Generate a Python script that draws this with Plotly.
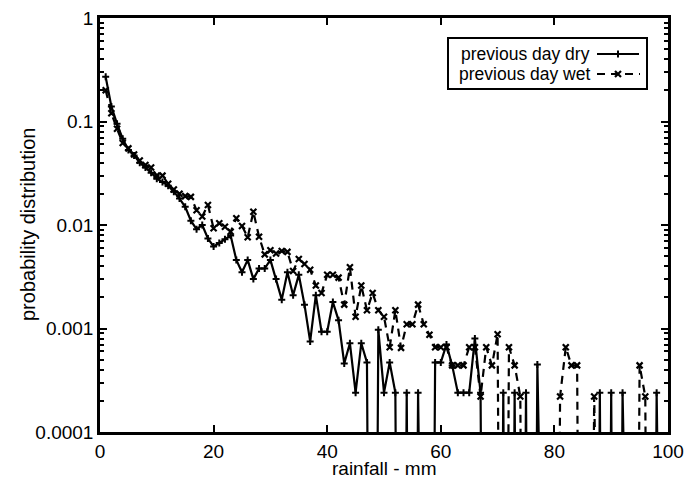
import plotly.graph_objects as go

rain_mm = list(range(1, 101))

prev_dry = [
    0.27, 0.14, 0.095, 0.068, 0.053, 0.047, 0.040, 0.036, 0.032, 0.028,
    0.026, 0.024, 0.021, 0.018, 0.015, 0.011, 0.0091, 0.0100, 0.0074, 0.0062,
    0.0067, 0.0073, 0.0079, 0.0046, 0.0035, 0.0046, 0.0030, 0.0038, 0.0038, 0.0046,
    0.0030, 0.0019, 0.0035, 0.0021, 0.0033, 0.0017, 0.00075, 0.0021, 0.00093, 0.00093,
    0.0018, 0.0012, 0.00046, 0.00072, 0.00024, 0.00072, 0.00047, 0, 0.00097, 0.00024,
    0.00047, 0.00024, 0, 0.00024, 0, 0.00024, 0, 0, 0.00047, 0.00047,
    0.00070, 0.00044, 0.00024, 0.00024, 0.00024, 0.0008, 0.00024, 0, 0, 0,
    0.00024, 0, 0.00024, 0, 0.00024, 0, 0.00045, 0, 0, 0,
    0, 0, 0, 0, 0, 0, 0, 0.00024, 0, 0.00024,
    0, 0.00024, 0, 0, 0, 0, 0, 0.00024, 0, 0,
]

prev_wet = [
    0.20, 0.12, 0.085, 0.062, 0.055, 0.048, 0.042, 0.038, 0.036, 0.030,
    0.030, 0.025, 0.022, 0.020, 0.019, 0.0187, 0.0139, 0.0121, 0.0156, 0.0093,
    0.0104, 0.0096, 0.0086, 0.0116, 0.0098, 0.0076, 0.0134, 0.0077, 0.0052, 0.0057,
    0.0053, 0.0056, 0.0055, 0.0036, 0.0047, 0.0042, 0.0037, 0.0026, 0.0022, 0.0033,
    0.0033, 0.0031, 0.0017, 0.0039, 0.0013, 0.0026, 0.0015, 0.0022, 0.0015, 0.0013,
    0.00066, 0.0015, 0.00065, 0.0011, 0.0011, 0.0017, 0.0011, 0.00087, 0.00066, 0.00066,
    0.00066, 0.00044, 0.00044, 0.00044, 0.00066, 0.00066, 0.00022, 0.00066, 0.00044, 0.00088,
    0, 0.00066, 0.00044, 0.00022, 0, 0, 0, 0, 0, 0,
    0.00022, 0.00066, 0.00044, 0.00044, 0, 0, 0.00022, 0, 0, 0,
    0, 0, 0, 0, 0.00044, 0.00022, 0, 0, 0, 0,
]

y_tick_vals = [0.0001, 0.001, 0.01, 0.1, 1]
y_tick_text = ["0.0001", "0.001", "0.01", "0.1", "1"]
x_tick_vals = [0, 20, 40, 60, 80, 100]

legend_labels = ["previous day dry", "previous day wet"]
x_title = "rainfall - mm"
y_title = "probability distribution"

FONT = "Liberation Sans, Arial, Helvetica, sans-serif"
TINY = 1e-12  # zero counts fall to -infinity on the log axis


def plot_vals(vals):
    return [v if v > 0 else TINY for v in vals]


fig = go.Figure()

fig.add_trace(go.Scatter(
    x=rain_mm, y=plot_vals(prev_dry), mode="lines+markers", name=legend_labels[0],
    line=dict(color="black", width=2.2),
    marker=dict(symbol="cross-thin", size=5, color="black", line=dict(color="black", width=2)),
    showlegend=False,
))
fig.add_trace(go.Scatter(
    x=rain_mm, y=plot_vals(prev_wet), mode="lines+markers", name=legend_labels[1],
    line=dict(color="black", width=2.2, dash="8px,6px"),
    marker=dict(symbol="x-thin", size=6, color="black", line=dict(color="black", width=2.2)),
    showlegend=False,
))

# legend samples on a pixel-coordinate overlay axis
legend_rows = [54, 74]
fig.add_trace(go.Scatter(
    x=[597, 639], y=[legend_rows[0]] * 2, mode="lines", xaxis="x2", yaxis="y2",
    line=dict(color="black", width=2), showlegend=False, hoverinfo="skip"))
fig.add_trace(go.Scatter(
    x=[618], y=[legend_rows[0]], mode="markers", xaxis="x2", yaxis="y2",
    marker=dict(symbol="cross-thin", size=5, line=dict(color="black", width=2)),
    showlegend=False, hoverinfo="skip"))
fig.add_trace(go.Scatter(
    x=[597, 640], y=[legend_rows[1]] * 2, mode="lines", xaxis="x2", yaxis="y2",
    line=dict(color="black", width=2, dash="8px,6px"), showlegend=False, hoverinfo="skip"))
fig.add_trace(go.Scatter(
    x=[618], y=[legend_rows[1]], mode="markers", xaxis="x2", yaxis="y2",
    marker=dict(symbol="x-thin", size=6, line=dict(color="black", width=2.2)),
    showlegend=False, hoverinfo="skip"))

for lbl, ypx in zip(legend_labels, legend_rows):
    fig.add_annotation(x=592, y=ypx, xref="x2", yref="y2", text=lbl, showarrow=False,
                       xanchor="right", yanchor="middle",
                       font=dict(family=FONT, size=17.5, color="black"))

fig.add_shape(type="rect", xref="x2", yref="y2", x0=448, x1=647, y0=38, y1=89,
              line=dict(color="black", width=2))

# axis titles
fig.add_annotation(x=0.5, y=(432 - 468) / 414, xref="paper", yref="paper", text=x_title,
                   showarrow=False, xanchor="center", yanchor="middle",
                   font=dict(family=FONT, size=19, color="black"))
fig.add_annotation(x=-72 / 568, y=0.5, xref="paper", yref="paper", text=y_title, showarrow=False,
                   textangle=-90, xanchor="center", yanchor="middle",
                   font=dict(family=FONT, size=20, color="black"))

fig.update_layout(
    width=688, height=479,
    margin=dict(l=100, r=20, t=18, b=47, autoexpand=False),
    paper_bgcolor="white", plot_bgcolor="white",
    font=dict(family=FONT, size=20, color="black"),
    xaxis=dict(
        range=[0, 100], tickvals=x_tick_vals, ticks="inside", ticklen=7, tickwidth=1.5,
        tickcolor="black", showline=True, linecolor="black", linewidth=2.5, mirror="ticks",
        showgrid=False, zeroline=False, automargin=False,
        tickfont=dict(family=FONT, size=19),
    ),
    yaxis=dict(
        type="log", range=[-4, 0], tickvals=y_tick_vals, ticktext=y_tick_text,
        ticks="inside", ticklen=7, tickwidth=1.5, tickcolor="black",
        minor=dict(ticks="inside", ticklen=4, tickwidth=1.5, tickcolor="black", dtick="D1", showgrid=False),
        showline=True, linecolor="black", linewidth=2.5, mirror="ticks",
        showgrid=False, zeroline=False, automargin=False,
        tickfont=dict(family=FONT, size=19),
    ),
    xaxis2=dict(range=[100, 668], domain=[0, 1], overlaying="x", visible=False, fixedrange=True),
    yaxis2=dict(range=[432, 18], domain=[0, 1], overlaying="y", visible=False, fixedrange=True),
)

fig.write_html("out.html")
